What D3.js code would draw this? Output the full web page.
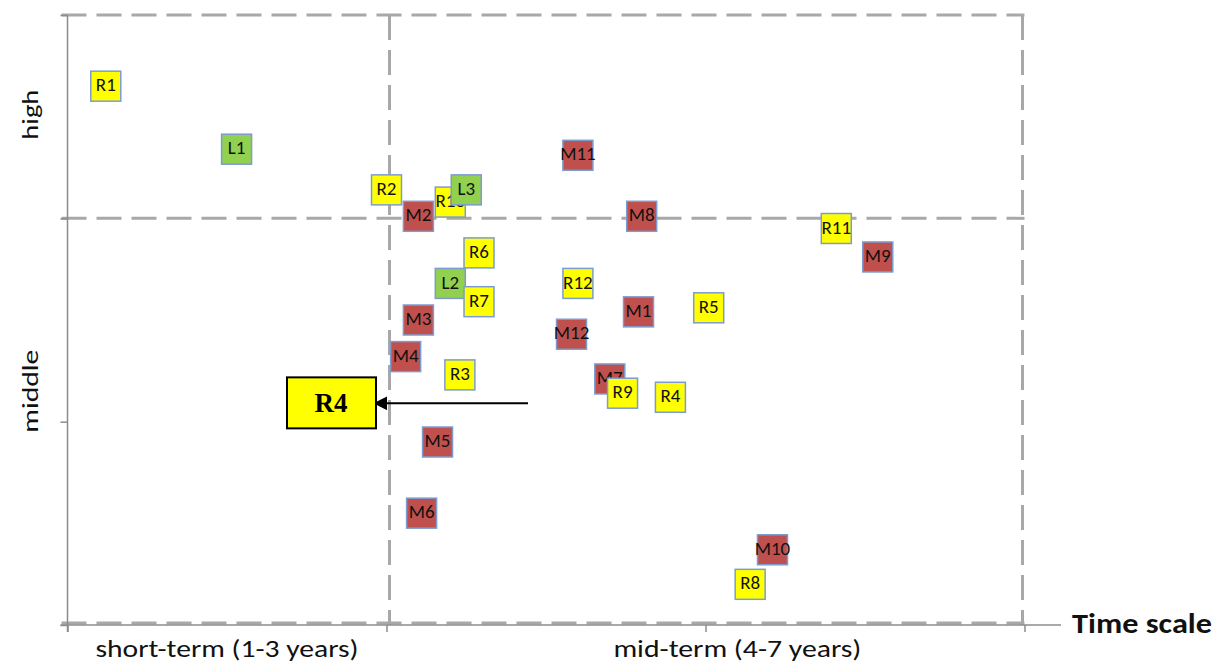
<!DOCTYPE html>
<html>
<head>
<meta charset="utf-8">
<script src="https://cdn.jsdelivr.net/npm/d3@7"></script>
<style>
  html, body { margin: 0; padding: 0; background: #fff; }
  svg { display: block; }
</style>
</head>
<body>
<script>
// chart values
var ids    = ["R1","L1","R2","M2","R10","L3","R6","L2","R7","M3","M4","R3","M5","M6",
              "M11","M8","R12","M1","M12","R5","M7","R9","R4","R11","M9","M10","R8"];
var groups = ["R","L","R","M","R","L","R","L","R","M","M","R","M","M",
              "M","M","R","M","M","R","M","R","R","R","M","M","R"];
var timeVals  = [0.12,0.53,1.00,1.10,1.20,1.25,1.29,1.20,1.29,1.10,1.06,1.23,1.16,1.11,
                 1.60,1.80,1.60,1.79,1.58,2.01,1.70,1.74,1.89,2.41,2.54,2.21,2.14];
var levelVals = [2.65,2.34,2.14,2.01,2.08,2.14,1.83,1.68,1.59,1.50,1.32,1.23,0.90,0.55,
                 2.31,2.01,1.68,1.54,1.43,1.56,1.21,1.14,1.12,1.95,1.81,0.37,0.20];

var xTickLabels = ["short-term (1-3 years)", "mid-term (4-7 years)"];
var xTickAt     = [0.5, 2.1];
var yTickLabels = ["high", "middle"];
var yTickAt     = [2.51, 1.15];
var calloutLabel = "R4";
var calloutTarget = 1.09;

var groupColor = { R: "#ffff00", L: "#92d050", M: "#c0504d" };

var W = 1218, H = 663;
var svg = d3.select("body").append("svg").attr("width", W).attr("height", H);
svg.append("rect").attr("width", W).attr("height", H).attr("fill", "#fff");

var x = d3.scaleLinear().domain([0, 3]).range([67.5, 1024.5]);
var y = d3.scaleLinear().domain([0, 3]).range([625, 15]);

// dashed quadrant lines
var dash = svg.append("g")
  .attr("stroke", "#a8a8a8").attr("stroke-width", 3)
  .attr("stroke-dasharray", "25,10").attr("fill", "none");
[3, 2, 0].forEach(function(v){
  var yy = y(v) - (v === 0 ? 2 : 0);
  dash.append("line").attr("x1", x(0) - 6).attr("x2", x(3)).attr("y1", yy).attr("y2", yy);
});
[1, 3].forEach(function(v){
  var xx = x(v) + (v === 3 ? -2 : 3);
  dash.append("line").attr("x1", xx).attr("x2", xx).attr("y1", y(3)).attr("y2", y(0));
});

// axes
var xAxis = svg.append("g").attr("transform", "translate(0," + y(0) + ")")
  .call(d3.axisBottom(x).tickValues([0,1,2,3]).tickFormat("").tickSize(7).tickSizeOuter(0));
var yAxis = svg.append("g").attr("transform", "translate(" + x(0) + ",0)")
  .call(d3.axisLeft(y).tickValues([0,1,2,3]).tickFormat("").tickSize(7).tickSizeOuter(0));
[xAxis, yAxis].forEach(function(a){
  a.selectAll("path, line").attr("stroke", "#8c8c8c").attr("stroke-width", 1.5);
});
xAxis.select("path.domain").attr("d", "M" + (x(0) - 7) + ",0H1061");
yAxis.select("path.domain").attr("d", "M0," + y(3) + "V" + (y(0) + 7));

var font = "Carlito, Calibri, 'Open Sans', sans-serif";
var xLabelW = [263, 248], yLabelW = [50, 83];

// category labels
svg.selectAll("text.xcat").data(xTickLabels).join("text")
  .attr("class", "xcat")
  .attr("x", function(d, i){ return x(xTickAt[i]) - xLabelW[i] / 2; })
  .attr("y", 657)
  .attr("textLength", function(d, i){ return xLabelW[i]; })
  .attr("lengthAdjust", "spacingAndGlyphs")
  .attr("font-family", font).attr("font-size", 24).attr("fill", "#111")
  .text(function(d){ return d; });

svg.selectAll("text.ycat").data(yTickLabels).join("text")
  .attr("class", "ycat")
  .attr("transform", function(d, i){ return "translate(38," + (y(yTickAt[i]) + yLabelW[i] / 2) + ") rotate(-90)"; })
  .attr("textLength", function(d, i){ return yLabelW[i]; })
  .attr("lengthAdjust", "spacingAndGlyphs")
  .attr("font-family", font).attr("font-size", 22).attr("fill", "#111")
  .text(function(d){ return d; });

svg.append("text")
  .attr("x", 1072).attr("y", 633)
  .attr("textLength", 140).attr("lengthAdjust", "spacingAndGlyphs")
  .attr("font-family", font).attr("font-size", 29).attr("font-weight", "bold").attr("fill", "#111")
  .text("Time scale");

// markers
var box = 30;
var marks = svg.append("g").selectAll("g").data(ids).join("g")
  .attr("transform", function(d, i){ return "translate(" + x(timeVals[i]) + "," + y(levelVals[i]) + ")"; });
marks.append("rect")
  .attr("x", -box / 2).attr("y", -box / 2).attr("width", box).attr("height", box)
  .attr("fill", function(d, i){ return groupColor[groups[i]]; })
  .attr("stroke", "#7c9cd0").attr("stroke-width", 1.5);
marks.append("text")
  .attr("text-anchor", "middle").attr("dy", "0.27em")
  .attr("font-family", font).attr("font-size", 19).attr("fill", "#111")
  .text(function(d){ return d; });

// callout box with arrow
var defs = svg.append("defs");
defs.append("marker").attr("id", "arrow")
  .attr("viewBox", "0 0 10 10").attr("refX", 1).attr("refY", 5)
  .attr("markerWidth", 7).attr("markerHeight", 7).attr("orient", "auto-start-reverse")
  .append("path").attr("d", "M0,0L10,5L0,10z").attr("fill", "#000");

var cy = y(calloutTarget);
svg.append("line")
  .attr("x1", 528).attr("x2", 386).attr("y1", cy).attr("y2", cy)
  .attr("stroke", "#000").attr("stroke-width", 2)
  .attr("marker-end", "url(#arrow)");
svg.append("rect")
  .attr("x", 287).attr("y", cy - 26).attr("width", 89).attr("height", 51)
  .attr("fill", "#ffff00").attr("stroke", "#000").attr("stroke-width", 2);
svg.append("text")
  .attr("x", 331).attr("y", cy + 9)
  .attr("text-anchor", "middle")
  .attr("font-family", "'Liberation Serif', 'DejaVu Serif', serif").attr("font-size", 27).attr("font-weight", "bold")
  .attr("fill", "#000")
  .text(calloutLabel);
</script>
</body>
</html>
